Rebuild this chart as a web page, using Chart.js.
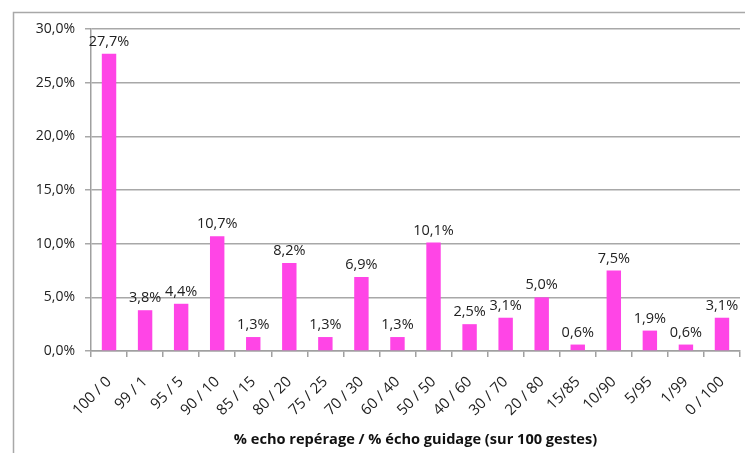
<!DOCTYPE html>
<html>
<head>
<meta charset="utf-8">
<script src="https://cdn.jsdelivr.net/npm/chart.js@4"></script>
<style>
  html, body { margin: 0; padding: 0; background: #fff; }
  #wrap { width: 745px; height: 453px; position: relative; }
</style>
</head>
<body>
<div id="wrap"><canvas id="myChart" width="745" height="453"></canvas></div>
<script>
// categories (% echo repérage / % écho guidage)
const categories = ['100 / 0', '99 / 1', '95 / 5', '90 / 10', '85 / 15', '80 / 20', '75 / 25', '70 / 30', '60 / 40',
    '50 / 50', '40 / 60', '30 / 70', '20 / 80', '15/85', '10/90', '5/95', '1/99', '0 / 100'];
const percentages = [27.7, 3.8, 4.4, 10.7, 1.3, 8.2, 1.3, 6.9, 1.3, 10.1, 2.5, 3.1, 5.0, 0.6, 7.5, 1.9, 0.6, 3.1];
const yTicks = [0, 5, 10, 15, 20, 25, 30];
const xTitle = '% echo repérage / % écho guidage (sur 100 gestes)';

function fmt(v) {
    return v.toFixed(1).replace('.', ',') + '%';
}

// frame around the chart (only top and left visible, as in the cropped picture)
const framePlugin = {
    id: 'frame',
    beforeDraw(chart) {
        const ctx = chart.ctx;
        ctx.save();
        ctx.strokeStyle = '#a8a8a8';
        ctx.lineWidth = 1.5;
        ctx.beginPath();
        ctx.moveTo(13.5, 453);
        ctx.lineTo(13.5, 12.5);
        ctx.lineTo(745, 12.5);
        ctx.stroke();
        ctx.restore();
    }
};

// value labels above the bars
const valueLabels = {
    id: 'valueLabels',
    afterDatasetsDraw(chart) {
        const ctx = chart.ctx;
        const meta = chart.getDatasetMeta(0);
        ctx.save();
        ctx.font = '14.5px "Open Sans"';
        ctx.fillStyle = '#222';
        ctx.textAlign = 'center';
        ctx.textBaseline = 'alphabetic';
        meta.data.forEach((bar, i) => {
            ctx.fillText(fmt(percentages[i]), bar.x, bar.y - 8);
        });
        ctx.restore();
    }
};

const ctx = document.getElementById('myChart').getContext('2d');
const myChart = new Chart(ctx, {
    type: 'bar',
    data: {
        labels: categories,
        datasets: [{
            data: percentages,
            backgroundColor: '#ff45e6',
            borderWidth: 0,
            categoryPercentage: 1,
            barPercentage: 0.4
        }]
    },
    options: {
        responsive: false,
        animation: false,
        layout: { padding: { top: 29, right: 5, left: 0, bottom: 0 } },
        plugins: {
            legend: { display: false },
            tooltip: { enabled: false }
        },
        scales: {
            x: {
                grid: { drawOnChartArea: false, color: '#a0a0a0', lineWidth: 1.5, tickLength: 6, offset: true },
                border: { color: '#a0a0a0', width: 1.5 },
                ticks: {
                    color: '#222',
                    font: { family: 'Open Sans', size: 15 },
                    minRotation: 45,
                    maxRotation: 45,
                    padding: 16,
                    autoSkip: false
                },
                title: {
                    display: true,
                    text: xTitle,
                    color: '#111',
                    font: { family: 'Open Sans', size: 14.6, weight: 'bold' },
                    padding: { top: 0, bottom: 4 }
                },
                afterFit(scale) {
                    scale.height = 102;
                    scale.paddingRight = 0;
                    scale.paddingLeft = 0;
                }
            },
            y: {
                min: 0,
                max: 30,
                afterBuildTicks(scale) { scale.ticks = yTicks.map(v => ({ value: v })); },
                grid: { color: '#a8a8a8', lineWidth: 1.5, tickLength: 6 },
                border: { color: '#a0a0a0', width: 1.5 },
                ticks: {
                    color: '#222',
                    font: { family: 'Open Sans', size: 14 },
                    padding: 10,
                    callback: v => fmt(v)
                },
                afterFit(scale) { scale.width = 91; }
            }
        }
    },
    plugins: [framePlugin, valueLabels]
});
</script>
</body>
</html>
